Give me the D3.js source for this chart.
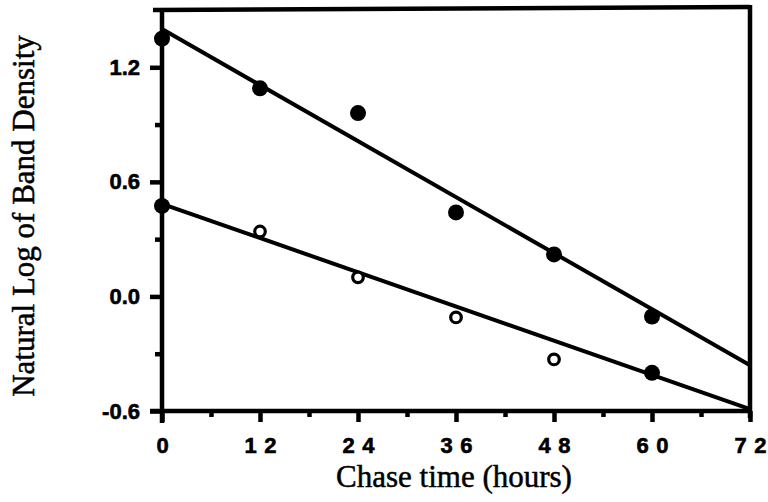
<!DOCTYPE html>
<html><head><meta charset="utf-8">
<script src="https://cdn.jsdelivr.net/npm/d3@7"></script>
<style>html,body{margin:0;padding:0;background:#fff;}</style>
</head><body>
<svg id="c" width="768" height="502"></svg>
<script>
// Data
const hours = [0, 12, 24, 36, 48, 60];
const seriesA = [1.35, 1.09, 0.96, 0.44, 0.22, -0.105];       // filled circles
const seriesB = [0.474, 0.34, 0.10, -0.11, -0.33, -0.40];     // open circles (first & last filled)
const seriesBFilled = [true, false, false, false, false, true];
const fitA = [[0, 1.40], [72, -0.36]];
const fitB = [[0, 0.485], [72, -0.59]];
const xTicks = [0, 12, 24, 36, 48, 60, 72];
const xMinor = [6, 18, 30, 42, 54, 66];
const yTicks = [-0.6, 0.0, 0.6, 1.2];
const yMinor = [-0.3, 0.3, 0.9];
const xTitle = "Chase time (hours)";
const yTitle = "Natural Log of Band Density";

const svg = d3.select("#c");
const x = d3.scaleLinear().domain([0, 72]).range([162, 750]);
const y = d3.scaleLinear().domain([-0.6, 1.5]).range([411, 10]);
const ink = "#000";
const AW = 4.5;

// frame top & right
svg.append("line").attr("x1", 153).attr("x2", x(72)).attr("y1", y(1.5)).attr("y2", y(1.5)-3)
  .attr("stroke", ink).attr("stroke-width", AW);
svg.append("line").attr("x1", x(72)).attr("x2", x(72)).attr("y1", y(1.5)-5).attr("y2", y(-0.6)+7)
  .attr("stroke", ink).attr("stroke-width", AW);

const sansLabel = sel => sel.attr("fill", ink)
  .style("font-family", "'Liberation Sans', Arial, sans-serif").style("font-weight", "bold")
  .style("font-size", "22px").attr("stroke", ink).attr("stroke-width", 0.6);

// x axis
const xAxis = d3.axisBottom(x).tickValues(xTicks).tickSize(11).tickPadding(15)
  .tickFormat(d3.format("d"));
const gx = svg.append("g").attr("transform", `translate(0,${y(-0.6)})`).call(xAxis);
gx.select(".domain").attr("d", `M${x(0)-12},0H${x(72)}`).attr("stroke", ink).attr("stroke-width", AW);
gx.selectAll(".tick line").attr("stroke", ink).attr("stroke-width", AW);
gx.selectAll(".tick text").call(sansLabel)
  .each(function(d){ if (String(d).length > 1) d3.select(this).attr("textLength", 32).attr("lengthAdjust", "spacing"); });
const gxm = svg.append("g").attr("transform", `translate(0,${y(-0.6)})`)
  .call(d3.axisBottom(x).tickValues(xMinor).tickSize(6).tickFormat(""));
gxm.select(".domain").remove();
gxm.selectAll(".tick line").attr("stroke", ink).attr("stroke-width", AW);

// y axis
const yAxis = d3.axisLeft(y).tickValues(yTicks).tickSize(12).tickPadding(10)
  .tickFormat(d => d.toFixed(1));
const gy = svg.append("g").attr("transform", `translate(${x(0)},0)`).call(yAxis);
gy.select(".domain").attr("d", `M0,${y(1.5)}V${y(-0.6)+12}`).attr("stroke", ink).attr("stroke-width", AW);
gy.selectAll(".tick line").attr("stroke", ink).attr("stroke-width", AW);
gy.selectAll(".tick text").call(sansLabel);
const gym = svg.append("g").attr("transform", `translate(${x(0)},0)`)
  .call(d3.axisLeft(y).tickValues(yMinor).tickSize(7).tickFormat(""));
gym.select(".domain").remove();
gym.selectAll(".tick line").attr("stroke", ink).attr("stroke-width", AW);

// fit lines
const line = d3.line().x(d => x(d[0])).y(d => y(d[1]));
[fitA, fitB].forEach(f => {
  svg.append("path").attr("d", line(f)).attr("fill", "none").attr("stroke", ink).attr("stroke-width", 4);
});

// series A points
svg.selectAll(".pa").data(hours).enter().append("circle")
  .attr("cx", (d) => x(d)).attr("cy", (d, i) => y(seriesA[i])).attr("r", 8).attr("fill", ink);
// series B points
svg.selectAll(".pb").data(hours).enter().append("circle")
  .attr("cx", (d) => x(d)).attr("cy", (d, i) => y(seriesB[i]))
  .attr("r", (d, i) => seriesBFilled[i] ? 8 : 5.3)
  .attr("fill", (d, i) => seriesBFilled[i] ? ink : "#fff")
  .attr("stroke", ink).attr("stroke-width", (d, i) => seriesBFilled[i] ? 0 : 3.2);

// titles
const serif = sel => sel.style("font-family", "'Liberation Serif', 'Times New Roman', serif")
  .style("font-size", "31px").attr("fill", ink).attr("stroke", ink).attr("stroke-width", 0.5);
svg.append("text").attr("x", 454).attr("y", 487).attr("text-anchor", "middle")
  .call(serif).text(xTitle);
svg.append("text").attr("transform", "translate(34,216) rotate(-90)").attr("text-anchor", "middle")
  .call(serif).text(yTitle);
</script>
</body></html>
